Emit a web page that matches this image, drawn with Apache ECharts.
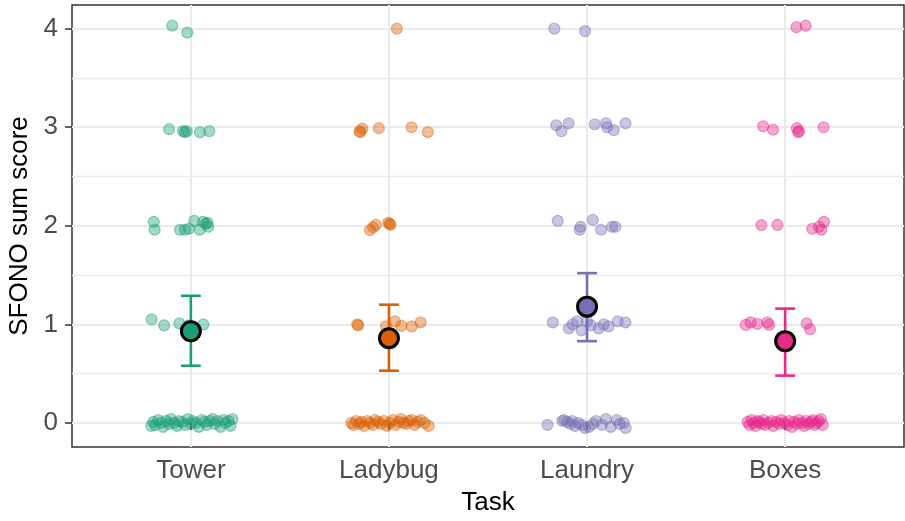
<!DOCTYPE html>
<html><head><meta charset="utf-8">
<script src="https://cdn.jsdelivr.net/npm/echarts@6/dist/echarts.min.js"></script>
<style>html,body{margin:0;padding:0;background:#fff}#c{width:905px;height:521px}</style>
</head><body><div id="c"></div>
<script>
// ---- data ----
const tasks = ['Tower', 'Ladybug', 'Laundry', 'Boxes'];
const yTicks = [0, 1, 2, 3, 4];
const yMinorTicks = [0.5, 1.5, 2.5, 3.5];
const means = [0.93, 0.86, 1.18, 0.83];
const ciLow = [0.58, 0.53, 0.83, 0.48];
const ciHigh = [1.29, 1.20, 1.52, 1.16];

// jitter offsets (in category units) and jittered scores, per task
const towerJitter = [
  -0.094, -0.018,
  -0.11, -0.04, -0.03, -0.02, 0.046, 0.093,
  -0.187, -0.183, -0.055, -0.03, -0.01, 0.017, 0.045, 0.062, 0.075, 0.088, 0.085,
  -0.198, -0.135, -0.058, -0.01, 0.063,
  -0.2, -0.19, -0.18, -0.165, -0.15, -0.14, -0.125, -0.11, -0.1, -0.085, -0.07, -0.06, -0.045, -0.03, -0.015, 0, 0.01, 0.025, 0.04, 0.055, 0.07, 0.08, 0.095, 0.11, 0.12, 0.135, 0.15, 0.165, 0.175, 0.19, 0.2, 0.21
];
const towerScore = [
  4.03, 3.96,
  2.98, 2.96, 2.95, 2.96, 2.95, 2.96,
  2.04, 1.96, 1.96, 1.96, 1.97, 2.05, 1.96, 2.04, 2.02, 1.99, 2.03,
  1.05, 0.99, 1.01, 0.99, 1.0,
  -0.03, 0.01, -0.02, 0.03, 0, -0.04, 0.02, -0.01, 0.04, 0, -0.03, 0.02, 0.01, -0.02, 0.04, -0.01, 0.02, 0, -0.04, 0.03, 0.01, -0.02, 0.02, 0.04, -0.01, 0.02, -0.04, 0.03, 0, 0.02, -0.03, 0.04
];
const ladybugJitter = [
  0.04,
  -0.148, -0.145, -0.134, -0.051, 0.114, 0.196,
  -0.096, -0.08, -0.066, -0.004, 0.008, 0.004,
  -0.16, -0.155, -0.015, 0.03, 0.063, 0.115, 0.16,
  -0.19, -0.18, -0.165, -0.15, -0.14, -0.125, -0.11, -0.095, -0.08, -0.07, -0.055, -0.04, -0.025, -0.01, 0.005, 0.02, 0.035, 0.05, 0.06, 0.075, 0.09, 0.1, 0.115, 0.13, 0.145, 0.16, 0.18, 0.2
];
const ladybugScore = [
  4.0,
  2.96, 2.95, 2.985, 2.99, 3.0, 2.95,
  1.957, 1.985, 2.01, 2.03, 2.01, 2.02,
  1.0, 0.99, 0.98, 1.03, 0.985, 0.98, 1.02,
  0, -0.02, 0.02, -0.01, 0.01, -0.03, 0.02, 0, -0.02, 0.03, 0.01, -0.01, 0.02, -0.03, 0, 0.03, -0.02, 0.01, 0.04, 0, -0.01, 0.02, 0.03, -0.02, 0.01, 0.03, 0, -0.03
];
const laundryJitter = [
  -0.165, -0.01,
  -0.156, -0.129, -0.093, 0.039, 0.096, 0.101, 0.135, 0.194,
  -0.148, -0.033, -0.037, 0.029, 0.071, 0.126, 0.143,
  -0.173, -0.092, -0.072, -0.05, -0.028, 0, 0.02, 0.059, 0.084, 0.109, 0.155, 0.194,
  -0.2, -0.125, -0.115, -0.1, -0.085, -0.075, -0.06, -0.045, -0.025, -0.01, 0.01, 0.03, 0.045, 0.075, 0.095, 0.12, 0.15, 0.165, 0.185, 0.195
];
const laundryScore = [
  4.0, 3.975,
  3.02, 2.96, 3.04, 3.03, 3.04, 3.0, 2.97, 3.04,
  2.05, 1.99, 1.96, 2.06, 1.96, 1.99, 1.99,
  1.02, 0.96, 1.0, 1.03, 0.94, 1.03, 0.99, 0.96, 1.0, 0.98, 1.03, 1.02,
  -0.02, 0.02, 0.03, 0.01, -0.01, 0.02, -0.03, 0, -0.02, -0.05, -0.04, -0.01, 0.02, -0.02, 0.04, -0.04, 0.03, -0.01, 0, -0.05
];
const boxesJitter = [
  0.057, 0.104,
  -0.111, -0.061, 0.059, 0.066, 0.07, 0.194,
  -0.12, -0.039, 0.137, 0.171, 0.183, 0.196,
  -0.199, -0.174, -0.14, -0.09, -0.081, 0.109, 0.126,
  -0.19, -0.18, -0.17, -0.16, -0.15, -0.14, -0.13, -0.12, -0.11, -0.1, -0.085, -0.07, -0.06, -0.045, -0.03, -0.02, -0.005, 0.01, 0.02, 0.035, 0.045, 0.06, 0.07, 0.085, 0.095, 0.105, 0.12, 0.13, 0.14, 0.15, 0.16, 0.17, 0.18, 0.19
];
const boxesScore = [
  4.015, 4.03,
  3.01, 2.975, 2.99, 2.95, 2.96, 3.0,
  2.007, 2.01, 1.97, 1.99, 1.96, 2.04,
  0.995, 1.02, 1.005, 1.02, 0.995, 1.01, 0.95,
  0.01, -0.02, 0.03, 0, -0.03, 0.02, 0.01, -0.01, 0.03, -0.02, 0, 0.02, -0.03, 0.01, -0.01, 0.03, 0, -0.02, 0.02, -0.04, 0.01, -0.01, 0.03, 0, -0.03, 0.02, -0.01, 0.01, 0.03, -0.02, 0, 0.02, 0.04, -0.02
];

const jitters = [towerJitter, ladybugJitter, laundryJitter, boxesJitter];
const scores = [towerScore, ladybugScore, laundryScore, boxesScore];
const palette = ['#1B9E77', '#D95F02', '#7570B3', '#E7298A'];

function rgba(hex, a) {
  const n = parseInt(hex.slice(1), 16);
  return 'rgba(' + (n >> 16 & 255) + ',' + (n >> 8 & 255) + ',' + (n & 255) + ',' + a + ')';
}

const font = 'Liberation Sans, Arial, sans-serif';
const series = [];
tasks.forEach((t, i) => {
  series.push({
    type: 'scatter', name: t, xAxisIndex: 0, yAxisIndex: 0,
    data: jitters[i].map((j, k) => [i + 1 + j, scores[i][k]]),
    symbol: 'circle', symbolSize: 11,
    itemStyle: { color: rgba(palette[i], 0.5), borderColor: rgba(palette[i], 0.55), borderWidth: 1.2 },
    z: 3, silent: true
  });
});
series.push({
  type: 'custom', xAxisIndex: 0, yAxisIndex: 0, z: 4, silent: true,
  data: tasks.map((t, i) => [i + 1, ciLow[i], ciHigh[i]]),
  renderItem: function (params, api) {
    const x = api.value(0);
    const lo = api.coord([x, api.value(1)]);
    const hi = api.coord([x, api.value(2)]);
    const hw = api.size([0.1, 0])[0] / 2;
    const c = palette[params.dataIndex];
    const st = { stroke: c, lineWidth: 2.6, fill: null };
    return { type: 'group', children: [
      { type: 'line', shape: { x1: lo[0], y1: lo[1], x2: hi[0], y2: hi[1] }, style: st },
      { type: 'line', shape: { x1: lo[0] - hw, y1: lo[1], x2: lo[0] + hw, y2: lo[1] }, style: st },
      { type: 'line', shape: { x1: hi[0] - hw, y1: hi[1], x2: hi[0] + hw, y2: hi[1] }, style: st }
    ] };
  }
});
series.push({
  type: 'scatter', xAxisIndex: 0, yAxisIndex: 0, z: 5, silent: true,
  symbol: 'circle', symbolSize: 19,
  data: tasks.map((t, i) => ({ value: [i + 1, means[i]], itemStyle: { color: palette[i] } })),
  itemStyle: { borderColor: '#000', borderWidth: 3, opacity: 1 }
});

const chart = echarts.init(document.getElementById('c'), null, { renderer: 'canvas' });
chart.setOption({
  animation: false,
  backgroundColor: '#fff',
  grid: { left: 72, right: 1, top: 5, bottom: 74, outerBoundsMode: 'none', containLabel: false, show: true, borderColor: '#333', borderWidth: 1.5, backgroundColor: 'transparent' },
  xAxis: [{
    type: 'value', min: 0.4, max: 4.6,
    name: 'Task', nameLocation: 'middle', nameGap: 43,
    nameTextStyle: { color: '#000', fontSize: 26, fontFamily: font },
    axisLine: { show: false },
    axisTick: { show: true, customValues: [1, 2, 3, 4], length: 7, lineStyle: { color: '#333', width: 1.5 } },
    axisLabel: { customValues: [1, 2, 3, 4], formatter: v => tasks[Math.round(v) - 1], color: '#4d4d4d', fontSize: 26, fontFamily: font, margin: 11 },
    splitLine: { show: true, lineStyle: { color: '#ebebeb', width: 2 } }
  }],
  yAxis: [{
    type: 'value', min: -0.244, max: 4.24,
    name: 'SFONO sum score', nameLocation: 'middle', nameGap: 33, nameRotate: 90,
    nameTextStyle: { color: '#000', fontSize: 26, fontFamily: font },
    axisLine: { show: false },
    axisTick: { show: true, customValues: yTicks, length: 7, lineStyle: { color: '#333', width: 1.5 } },
    axisLabel: { customValues: yTicks, color: '#4d4d4d', fontSize: 26, fontFamily: font, margin: 14 },
    splitLine: { show: true, lineStyle: { color: '#ebebeb', width: 2 } }
  }, {
    type: 'value', min: -0.244, max: 4.24, position: 'left',
    axisLine: { show: false },
    axisTick: { show: false, customValues: yMinorTicks },
    axisLabel: { show: false, customValues: yMinorTicks },
    splitLine: { show: true, lineStyle: { color: '#ececec', width: 1.3 } }
  }],
  series: series
});
</script>
</body></html>
